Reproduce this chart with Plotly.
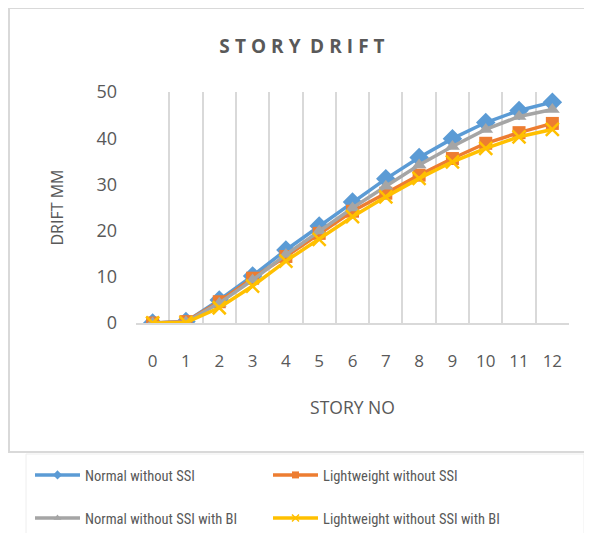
import plotly.graph_objects as go

stories = ["0", "1", "2", "3", "4", "5", "6", "7", "8", "9", "10", "11", "12"]
normal_without_ssi = [0, 0.3, 5.0, 10.2, 15.8, 21.0, 26.2, 31.2, 35.8, 39.9, 43.4, 46.0, 47.8]
lightweight_without_ssi = [0, 0.3, 4.6, 9.7, 14.4, 19.4, 24.2, 28.1, 32.0, 35.6, 38.9, 41.2, 43.2]
normal_with_bi = [0, 0.2, 4.3, 9.3, 14.8, 19.9, 24.9, 29.6, 34.2, 38.2, 41.9, 44.7, 46.2]
lightweight_with_bi = [0, 0.1, 3.3, 8.0, 13.4, 18.1, 23.0, 27.3, 31.3, 34.9, 37.8, 40.3, 41.9]

series = [
    ("Normal without SSI", normal_without_ssi, "#5B9BD5", "diamond", 15, "legend"),
    ("Lightweight without SSI", lightweight_without_ssi, "#ED7D31", "square", 13, "legend"),
    ("Normal without SSI with BI", normal_with_bi, "#A5A5A5", "triangle-up", 13, "legend2"),
    ("Lightweight without SSI with BI", lightweight_with_bi, "#FFC000", "x-thin", 13, "legend2"),
]

fig = go.Figure()
for name, vals, color, sym, size, lg in series:
    marker = dict(symbol=sym, size=size, color=color, line=dict(color=color, width=2.5 if sym == "x-thin" else 0))
    fig.add_trace(go.Scatter(
        x=stories, y=vals, name=name, mode="lines+markers", showlegend=False,
        line=dict(color=color, width=3.5), marker=marker,
    ))
# legend entries with the small symbols used in the reference legend
for name, vals, color, sym, size, lg in series:
    marker = dict(symbol=sym, size=7, color=color, line=dict(color=color, width=1.5 if sym == "x-thin" else 0))
    fig.add_trace(go.Scatter(
        x=[None], y=[None], name=name, mode="lines+markers",
        line=dict(color=color, width=3.5), marker=marker, legend=lg,
    ))

legend_font = dict(family="Liberation Sans Narrow, Arial Narrow, Roboto Condensed, sans-serif", size=14.5, color="#595959")

# page body has an 8px margin: figure coordinates = screen coordinates - 8
FW, FH = 584, 525
PL, PR, PT, PB = 128, 561, 84, 315
W, H = PR - PL, PB - PT

sp = "\u2009\u200a"
title_text = "<b>" + sp.join("STORY") + "\u2002" + sp.join("DRIFT") + "</b>"

fig.update_layout(
    width=FW, height=FH,
    margin=dict(l=PL, r=FW - PR, t=PT, b=FH - PB, autoexpand=False),
    paper_bgcolor="white", plot_bgcolor="white",
    font=dict(family="Open Sans, Noto Sans, sans-serif", color="#595959"),
    title=dict(
        text=title_text,
        x=(302 - 8) / FW, xref="container", xanchor="center",
        y=1 - 38 / FH, yref="container", yanchor="middle",
        font=dict(size=19, color="#595959", family="Open Sans, sans-serif"),
    ),
    xaxis=dict(
        type="category", tickson="boundaries", showgrid=True, gridcolor="#d9d9d9", gridwidth=1.5,
        showline=True, linecolor="#d9d9d9", linewidth=1.5, ticks="", range=[-0.5, 12.5],
        tickfont=dict(size=17, color="#595959"), automargin=False,
        title=dict(text="STORY NO", font=dict(size=17.5, color="#595959"), standoff=31),
        ticklabelstandoff=22,
    ),
    yaxis=dict(
        range=[0, 50], dtick=10, showgrid=False, zeroline=False, showline=False, ticks="",
        tickfont=dict(size=18, color="#595959"), ticklabelstandoff=18, automargin=False,
        title=dict(text="DRIFT MM", font=dict(size=16, color="#595959"), standoff=28),
    ),
    legend=dict(orientation="h", x=(22 - PL) / W, xanchor="left", y=-(451 - PB) / H, yanchor="top",
                itemwidth=45, entrywidth=178, entrywidthmode="pixels", font=legend_font,
                bgcolor="rgba(0,0,0,0)"),
    legend2=dict(orientation="h", x=(22 - PL) / W, xanchor="left", y=-(494 - PB) / H, yanchor="top",
                 itemwidth=45, entrywidth=178, entrywidthmode="pixels", font=legend_font,
                 bgcolor="rgba(0,0,0,0)"),
    shapes=[
        dict(type="rect", xref="paper", yref="paper",
             x0=(1 - PL) / W, x1=(600 - PL) / W,
             y0=(PB - 444) / H, y1=(PB - 0) / H,
             line=dict(color="#d9d9d9", width=2), layer="below"),
        dict(type="rect", xref="paper", yref="paper",
             x0=(18 - PL) / W, x1=(576 - PL) / W,
             y0=(PB - 540) / H, y1=(PB - 446) / H,
             line=dict(color="#eeeeee", width=1), layer="below"),
    ],
)

fig.write_html("out.html")
